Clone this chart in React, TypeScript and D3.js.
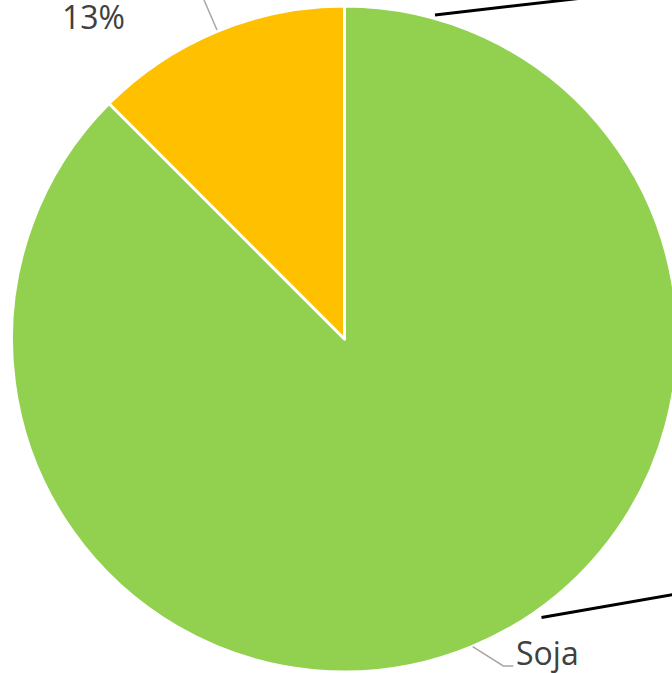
import React from "react";
import * as d3 from "d3";

const categories = ["Soja", "Otros"];
const values = [87.5, 12.5];
const labelTexts = ["Soja", "13%"];
const colors = ["#92D050", "#FFC000"];

const W = 672;
const H = 673;
const cx = 344.5;
const cy = 339;
const R = 333;

export default function App() {
  const pie = d3.pie<number>().sort(null).startAngle(0).endAngle(2 * Math.PI);
  const arcs = pie(values);
  const arcGen = d3.arc<d3.PieArcDatum<number>>().innerRadius(0).outerRadius(R);

  return (
    <svg
      width={W}
      height={H}
      style={{ position: "fixed", left: 0, top: 0, background: "#fff" }}
      fontFamily="'Open Sans', sans-serif"
    >
      <g transform={`translate(${cx},${cy})`}>
        {arcs.map((a, i) => (
          <path
            key={categories[i]}
            d={arcGen(a) || ""}
            fill={colors[i]}
            stroke="#fff"
            strokeWidth={3}
            strokeLinejoin="round"
          />
        ))}
      </g>
      {/* leader lines */}
      <polyline points="217,30 204,0" fill="none" stroke="#A6A6A6" strokeWidth={1.5} />
      <polyline points="472.7,646.7 503.3,666 513.3,666" fill="none" stroke="#A6A6A6" strokeWidth={1.5} />
      {/* black annotation lines */}
      <line x1={435} y1={15} x2={600} y2={-4} stroke="#000" strokeWidth={3} />
      <line x1={541.5} y1={617.5} x2={690} y2={591.5} stroke="#000" strokeWidth={3} />
      <text x={62} y={29} fontSize={32} fill="#404040">{labelTexts[1]}</text>
      <text x={516} y={665} fontSize={32} fill="#404040">{labelTexts[0]}</text>
    </svg>
  );
}
